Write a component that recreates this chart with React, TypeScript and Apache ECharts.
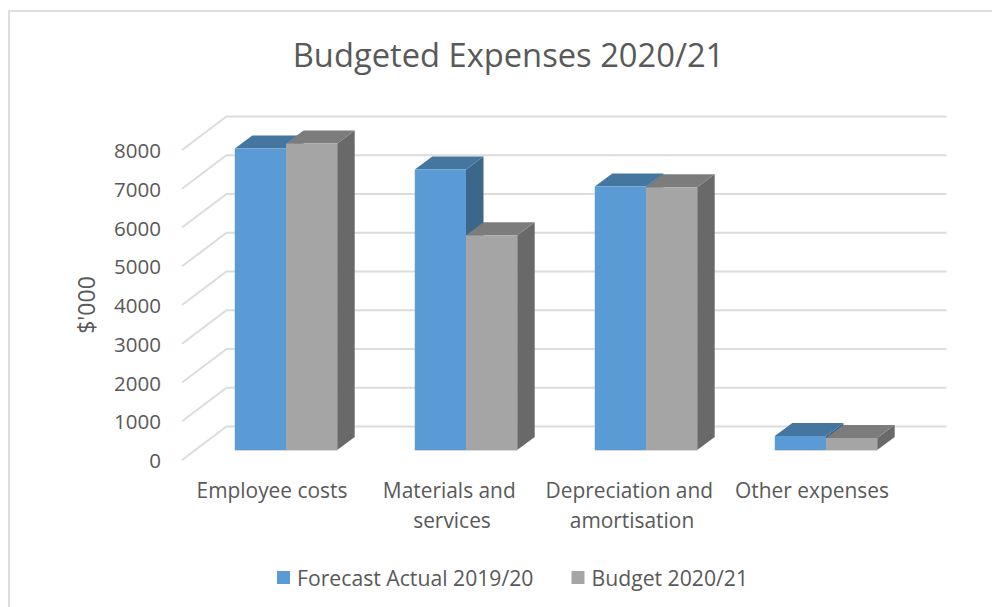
import React, { useEffect, useRef } from "react";
import * as echarts from "echarts";

const categories = ["Employee costs", "Materials and services", "Depreciation and amortisation", "Other expenses"];
const forecastActual = [7780, 7240, 6800, 360];
const budget = [7910, 5540, 6780, 310];
const yTicks = [0, 1000, 2000, 3000, 4000, 5000, 6000, 7000, 8000];

const FONT = "'Open Sans', sans-serif";
const TEXT = "#595959";
const GRID = "#dcdcdc";
const WALL = { dx: 44.5, dy: -33.5 };
const BAR_FRONT = { dx: 14, dy: -10 };
const BAR_DEPTH = { dx: 17.5, dy: -13 };
const BAR_RATIO = 51.2 / 180;

const palette = [
  { front: "#5b9bd5", top: "#44769f", side: "#3b678b" },
  { front: "#a5a5a5", top: "#7c7c7c", side: "#696969" },
];

const gridItem = (params: any, api: any) => {
  const sys = params.coordSys;
  const v = api.value(0);
  const y = api.coord([0, v])[1];
  const x0 = sys.x;
  const x1 = sys.x + WALL.dx;
  const y1 = y + WALL.dy;
  const x2 = sys.x + sys.width + WALL.dx;
  return {
    type: "polyline",
    shape: { points: [[x0, y], [x1, y1], [x2, y1]] },
    style: { stroke: GRID, lineWidth: 2, fill: "none" },
    silent: true,
  };
};

const barItem = (seriesPos: number) => (_: any, api: any) => {
  const [cx, yTop] = api.coord([api.value(0), api.value(1)]);
  const yBase = api.coord([api.value(0), 0])[1];
  const w = api.size([1, 0])[0] * BAR_RATIO;
  const c = palette[seriesPos];
  const x0 = cx + BAR_FRONT.dx + (seriesPos - 1) * w;
  const x1 = x0 + w;
  const t = yTop + BAR_FRONT.dy;
  const b = yBase + BAR_FRONT.dy;
  const dx = BAR_DEPTH.dx;
  const dy = BAR_DEPTH.dy;
  return {
    type: "group",
    children: [
      { type: "polygon", shape: { points: [[x1, t], [x1 + dx, t + dy], [x1 + dx, b + dy], [x1, b]] }, style: { fill: c.side } },
      { type: "polygon", shape: { points: [[x0, t], [x0 + dx, t + dy], [x1 + dx, t + dy], [x1, t]] }, style: { fill: c.top } },
      { type: "rect", shape: { x: x0, y: t, width: w, height: b - t }, style: { fill: c.front } },
      { type: "line", shape: { x1: x0, y1: b + 0.5, x2: x1, y2: b + 0.5 }, style: { stroke: "#d9d9d9", lineWidth: 1 } },
    ],
  };
};

export default function App() {
  const ref = useRef<HTMLDivElement>(null);
  useEffect(() => {
    const chart = echarts.init(ref.current!, undefined, { renderer: "svg" });
    chart.setOption({
      animation: false,
      backgroundColor: "#ffffff",
      textStyle: { fontFamily: FONT },
      title: {
        text: "Budgeted Expenses 2020/21",
        left: 503.5,
        top: 33,
        textAlign: "center",
        textStyle: { fontFamily: FONT, fontSize: 32.7, fontWeight: "normal", color: TEXT },
      },
      graphic: [
        {
          type: "rect",
          silent: true,
          shape: { x: 9, y: 11, width: 1000, height: 620 },
          style: { fill: "none", stroke: "#dedede", lineWidth: 2 },
        },
      ],
      legend: {
        left: 272,
        top: 562,
        itemWidth: 13,
        itemHeight: 13,
        itemGap: 38,
        icon: "rect",
        data: ["Forecast Actual 2019/20", "Budget 2020/21"],
        textStyle: { fontFamily: FONT, fontSize: 21.2, color: TEXT, padding: [0, 0, 0, 2] },
      },
      grid: { left: 182, top: 150, width: 720, height: 310 },
      xAxis: {
        type: "category",
        data: categories,
        axisLine: { show: false },
        axisTick: { show: false },
        axisLabel: {
          interval: 0,
          margin: 15,
          fontFamily: FONT,
          fontSize: 20.9,
          color: TEXT,
          lineHeight: 30,
          width: 178,
          overflow: "break",
        },
      },
      yAxis: {
        type: "value",
        min: 0,
        max: 8000,
        interval: 1000,
        axisLine: { show: false },
        axisTick: { show: false },
        splitLine: { show: false },
        name: "$'000",
        nameLocation: "middle",
        nameRotate: 90,
        nameGap: 85,
        nameTextStyle: { fontFamily: FONT, fontSize: 23, color: TEXT },
        axisLabel: { margin: 21, fontFamily: FONT, fontSize: 20.5, color: TEXT, formatter: (v: number) => String(v) },
      },
      series: [
        {
          type: "custom",
          silent: true,
          clip: false,
          z: 1,
          renderItem: gridItem,
          data: yTicks.map((v) => [v]),
          encode: { y: 0 },
        },
        {
          type: "custom",
          name: "Forecast Actual 2019/20",
          clip: false,
          z: 2,
          itemStyle: { color: palette[0].front },
          renderItem: barItem(0),
          data: forecastActual.map((v, i) => [i, v]),
          encode: { x: 0, y: 1 },
        },
        {
          type: "custom",
          name: "Budget 2020/21",
          clip: false,
          z: 3,
          itemStyle: { color: palette[1].front },
          renderItem: barItem(1),
          data: budget.map((v, i) => [i, v]),
          encode: { x: 0, y: 1 },
        },
      ],
    });
    return () => chart.dispose();
  }, []);
  return <div ref={ref} style={{ position: "absolute", left: 0, top: 0, width: 992, height: 607 }} />;
}
